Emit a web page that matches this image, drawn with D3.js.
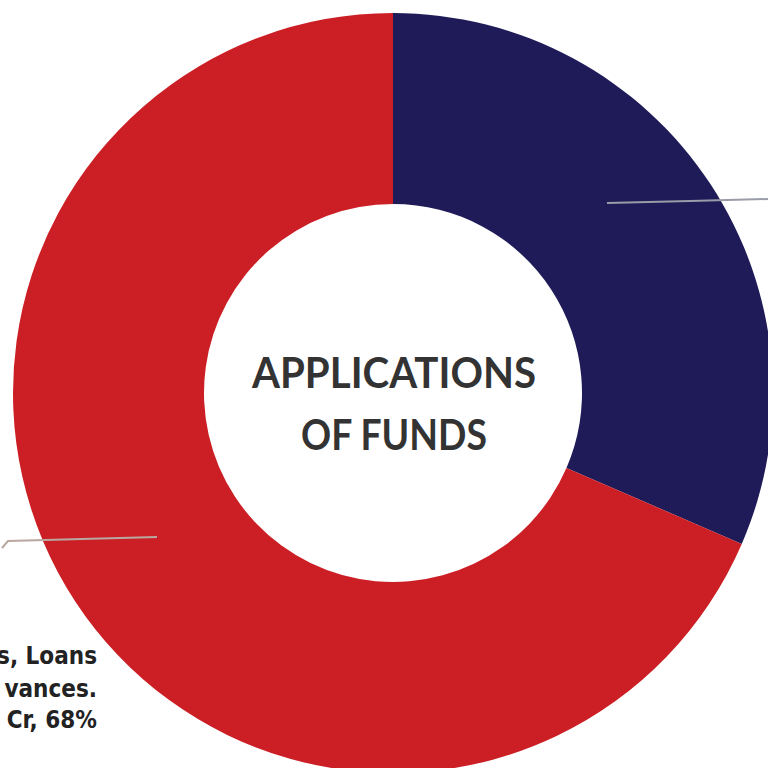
<!DOCTYPE html>
<html><head><meta charset="utf-8">
<script src="https://cdn.jsdelivr.net/npm/d3@7"></script>
<style>html,body{margin:0;padding:0;background:#fff;overflow:hidden}</style>
</head><body>
<svg id="c" width="768" height="768"></svg>
<script>
const categories = ["Other Applications", "Investments, Loans and Advances"];
const shares = [31.5, 68.5];
const colors = ["#1f1b58", "#cc1f25"];
const leftLabelLines = ["s, Loans", "vances.", "Cr, 68%"];
const centerTitle = ["APPLICATIONS", "OF FUNDS"];

const svg = d3.select("#c");
const cx = 393, cy = 393, R = 380, r = 189;
const g = svg.append("g").attr("transform", `translate(${cx},${cy})`);
const pie = d3.pie().sort(null).value(d => d)(shares);
const arc = d3.arc().innerRadius(r).outerRadius(R);
g.selectAll("path").data(pie).join("path")
  .attr("d", arc).attr("fill", (d, i) => colors[i]);

// leader lines
svg.append("polyline")
  .attr("points", "607,203 690,201 768,199")
  .attr("fill", "none").attr("stroke", "#9a9ca8").attr("stroke-width", 2);
svg.append("polyline")
  .attr("points", "157,537 8,541 2,548")
  .attr("fill", "none").attr("stroke", "#b8a8a0").attr("stroke-width", 2);

// center title
const t = svg.append("text").attr("text-anchor", "middle")
  .attr("font-family", "Lato, 'DejaVu Sans', sans-serif").attr("font-weight", 700)
  .attr("font-size", 42).attr("fill", "#333");
t.append("tspan").attr("x", 394).attr("y", 388).attr("textLength", 284)
  .attr("lengthAdjust", "spacingAndGlyphs").text(centerTitle[0]);
t.append("tspan").attr("x", 394).attr("y", 450).attr("textLength", 186)
  .attr("lengthAdjust", "spacingAndGlyphs").text(centerTitle[1]);

// left label (cropped at the left edge, as in the reference)
const lt = svg.append("text").attr("text-anchor", "end")
  .attr("font-family", "'DejaVu Sans Condensed', 'DejaVu Sans', sans-serif").attr("font-weight", 700)
  .attr("font-size", 24).attr("fill", "#222");
[664, 697, 728].forEach((y, i) => lt.append("tspan").attr("x", 97).attr("y", y).text(leftLabelLines[i]));
</script>
</body></html>
